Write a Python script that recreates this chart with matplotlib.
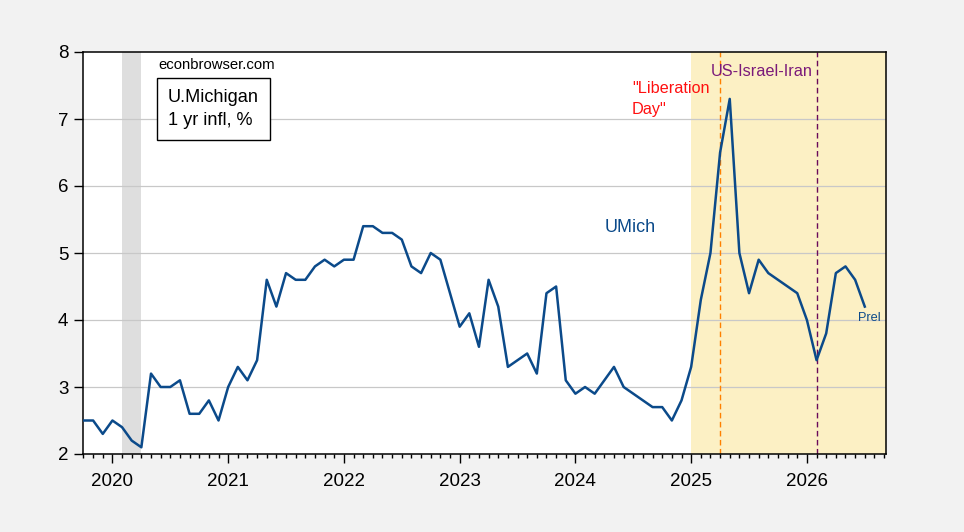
import matplotlib
matplotlib.use("Agg")
import matplotlib.pyplot as plt
from matplotlib.ticker import FixedLocator, MultipleLocator
import numpy as np

plt.rcParams['font.family'] = ['Liberation Sans', 'DejaVu Sans']

# ---- data (monthly, starting Oct 2019) ----
start_offset = -3  # Oct 2019 relative to Jan 2020
umich_1yr = [2.5, 2.5, 2.3,
             2.5, 2.4, 2.2, 2.1, 3.2, 3.0, 3.0, 3.1, 2.6, 2.6, 2.8, 2.5,
             3.0, 3.3, 3.1, 3.4, 4.6, 4.2, 4.7, 4.6, 4.6, 4.8, 4.9, 4.8,
             4.9, 4.9, 5.4, 5.4, 5.3, 5.3, 5.2, 4.8, 4.7, 5.0, 4.9, 4.4,
             3.9, 4.1, 3.6, 4.6, 4.2, 3.3, 3.4, 3.5, 3.2, 4.4, 4.5, 3.1,
             2.9, 3.0, 2.9, 3.1, 3.3, 3.0, 2.9, 2.8, 2.7, 2.7, 2.5, 2.8,
             3.3, 4.3, 5.0, 6.5, 7.3, 5.0, 4.4, 4.9, 4.7, 4.6, 4.5, 4.4,
             4.0, 3.4, 3.8, 4.7, 4.8, 4.6, 4.2]
years = [2020, 2021, 2022, 2023, 2024, 2025, 2026]
recession = (1, 3)          # Feb 2020 - Apr 2020 (months from Jan 2020)
trump2_start = 60           # Jan 2025
liberation_day = 63         # Apr 2025
iran_event = 73             # Feb 2026
yticks = [2, 3, 4, 5, 6, 7, 8]

x = np.arange(len(umich_1yr)) + start_offset

W, H = 964, 532
fig = plt.figure(figsize=(W / 100, H / 100), dpi=100, facecolor='#f2f2f2')
L, R, T, B = 83, 886, 52, 454
ax = fig.add_axes([L / W, 1 - B / H, (R - L) / W, (B - T) / H])
ax.set_facecolor('white')

line_col = '#0b4a8a'

ax.axvspan(recession[0], recession[1], color='#dedede', lw=0, zorder=0)
ax.axvspan(trump2_start, 90, color='#fcf0c4', lw=0, zorder=0)
for yv in yticks[1:-1]:
    ax.axhline(yv, color='#c8c8c8', lw=0.9, zorder=1)
ax.axvline(liberation_day, color='#ff8000', lw=1.0, ls=(0, (4, 2.5)), zorder=2)
ax.axvline(iran_event, color='#6a0a5a', lw=1.0, ls=(0, (4, 2.5)), zorder=2)

ax.plot(x, umich_1yr, color=line_col, lw=1.8, zorder=3)

ax.set_xlim(start_offset - 0.05, 80.2)
ax.set_ylim(2, 8)

# ticks
major = [(y - 2020) * 12 for y in years]
ax.xaxis.set_major_locator(FixedLocator(major))
ax.set_xticklabels([str(y) for y in years])
ax.xaxis.set_minor_locator(MultipleLocator(1))
ax.set_yticks(yticks)
ax.set_yticklabels([str(v) for v in yticks])
ax.tick_params(axis='x', which='major', length=6.5, width=1, direction='out', pad=7, labelsize=13.5)
ax.tick_params(axis='x', which='minor', length=3.2, width=1, direction='out')
ax.tick_params(axis='y', which='major', length=6.5, width=1, direction='out', pad=4, labelsize=13.5)
for s in ax.spines.values():
    s.set_color('black')
    s.set_linewidth(1.1)


def fx(px):
    return (px - L) / (R - L)


def fy(py):
    return (B - py) / (B - T)


ax.text(fx(158), fy(65), 'econbrowser.com', transform=ax.transAxes, fontsize=10.7,
        ha='left', va='center', color='black', zorder=5)
ax.text(fx(168), fy(109), 'U.Michigan\n1 yr infl, %', transform=ax.transAxes,
        fontsize=13.1, ha='left', va='center', linespacing=1.5, color='black', zorder=5,
        bbox=dict(boxstyle='square,pad=0.6', fc='white', ec='black', lw=1.0))
ax.text(fx(605), fy(227), 'UMich', transform=ax.transAxes, fontsize=13,
        ha='left', va='center', color=line_col, zorder=5)
ax.text(fx(632), fy(99), '"Liberation\nDay"', transform=ax.transAxes, fontsize=11.7,
        ha='left', va='center', color='#ff1010', linespacing=1.45, zorder=5)
ax.text(fx(711), fy(71), 'US-Israel-Iran', transform=ax.transAxes, fontsize=11.7,
        ha='left', va='center', color='#7a1a7a', zorder=5)
ax.text(fx(858), fy(318), 'Prel', transform=ax.transAxes, fontsize=9.2,
        ha='left', va='center', color=line_col, zorder=5)

fig.savefig('out.png', dpi=100, facecolor=fig.get_facecolor())
